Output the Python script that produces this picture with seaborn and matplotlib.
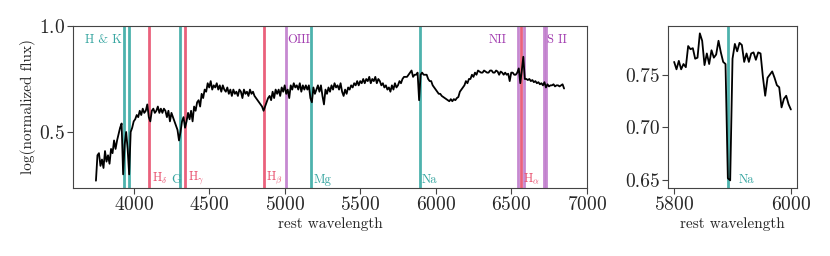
import numpy as np
import matplotlib
matplotlib.use("Agg")
import matplotlib.pyplot as plt
import matplotlib.transforms as mtransforms
import seaborn as sns

wave_full = np.arange(3750, 6851, 10)
flux_full = [
    0.27, 0.39, 0.40, 0.34, 0.37, 0.33, 0.41, 0.36, 0.39, 0.35, 0.42, 0.40, 0.46, 0.42, 0.46, 0.49, 0.52, 0.54, 0.30, 0.44,
    0.50, 0.42, 0.30, 0.50, 0.52, 0.55, 0.56, 0.58, 0.57, 0.60, 0.58, 0.61, 0.59, 0.60, 0.63, 0.57, 0.55, 0.60, 0.61, 0.59,
    0.60, 0.62, 0.59, 0.61, 0.59, 0.61, 0.60, 0.57, 0.60, 0.55, 0.59, 0.57, 0.55, 0.53, 0.51, 0.46, 0.50, 0.55, 0.57, 0.52,
    0.55, 0.59, 0.56, 0.60, 0.55, 0.62, 0.60, 0.64, 0.65, 0.62, 0.68, 0.66, 0.70, 0.69, 0.73, 0.71, 0.74, 0.70, 0.72, 0.71,
    0.73, 0.70, 0.72, 0.69, 0.72, 0.70, 0.69, 0.71, 0.68, 0.70, 0.67, 0.70, 0.68, 0.69, 0.67, 0.70, 0.69, 0.66, 0.70, 0.68,
    0.69, 0.67, 0.70, 0.68, 0.69, 0.67, 0.66, 0.65, 0.64, 0.63, 0.62, 0.60, 0.62, 0.64, 0.66, 0.67, 0.65, 0.69, 0.66, 0.70,
    0.68, 0.70, 0.67, 0.71, 0.69, 0.72, 0.68, 0.70, 0.66, 0.72, 0.70, 0.73, 0.71, 0.72, 0.70, 0.73, 0.69, 0.72, 0.70, 0.72,
    0.70, 0.72, 0.66, 0.64, 0.71, 0.68, 0.70, 0.72, 0.69, 0.72, 0.67, 0.63, 0.70, 0.68, 0.71, 0.69, 0.72, 0.70, 0.73, 0.71,
    0.72, 0.70, 0.73, 0.69, 0.67, 0.70, 0.68, 0.71, 0.70, 0.72, 0.71, 0.73, 0.72, 0.74, 0.72, 0.74, 0.73, 0.75, 0.73, 0.75,
    0.74, 0.76, 0.73, 0.75, 0.74, 0.76, 0.73, 0.75, 0.74, 0.72, 0.73, 0.71, 0.72, 0.70, 0.71, 0.69, 0.72, 0.70, 0.73, 0.71,
    0.72, 0.74, 0.73, 0.75, 0.76, 0.76, 0.76, 0.77, 0.78, 0.79, 0.76, 0.77, 0.77, 0.78, 0.65, 0.77, 0.78, 0.77, 0.77, 0.77,
    0.75, 0.74, 0.74, 0.72, 0.71, 0.70, 0.69, 0.68, 0.68, 0.67, 0.665, 0.66, 0.655, 0.65, 0.645, 0.655, 0.645, 0.655, 0.65, 0.66,
    0.665, 0.69, 0.70, 0.71, 0.72, 0.74, 0.73, 0.75, 0.75, 0.77, 0.76, 0.78, 0.77, 0.79, 0.785, 0.78, 0.78, 0.79, 0.785, 0.78,
    0.78, 0.79, 0.79, 0.78, 0.78, 0.79, 0.785, 0.77, 0.785, 0.78, 0.77, 0.78, 0.77, 0.775, 0.74, 0.78, 0.78, 0.77, 0.77, 0.78,
    0.80, 0.73, 0.79, 0.855, 0.75, 0.75, 0.745, 0.75, 0.74, 0.745, 0.735, 0.74, 0.73, 0.735, 0.725, 0.73, 0.72, 0.735, 0.71, 0.725,
    0.715, 0.72, 0.72, 0.725, 0.715, 0.72, 0.72, 0.715, 0.72, 0.725, 0.705,
]

# zoom on the Na D region, every 4 A
wave_na = np.arange(5800, 6001, 4)
flux_na = [
    0.762, 0.755, 0.763, 0.755, 0.760, 0.757, 0.777, 0.774, 0.775, 0.765,
    0.766, 0.789, 0.782, 0.759, 0.770, 0.760, 0.773, 0.766, 0.769, 0.782,
    0.771, 0.762, 0.760, 0.652, 0.650, 0.765, 0.779, 0.772, 0.780, 0.778,
    0.762, 0.770, 0.762, 0.770, 0.771, 0.764, 0.771, 0.770, 0.748, 0.730,
    0.747, 0.750, 0.753, 0.747, 0.740, 0.738, 0.719, 0.727, 0.730, 0.722,
    0.717,
]

# spectral lines
TEAL = "#3aaaa4"
RED = "#e8506e"
PURPLE = "#c07ccc"
line_waves = [3934, 3969, 4102, 4304, 4341, 4861, 5007, 5175, 5893,
              6548, 6563, 6584, 6717, 6731]
line_colors = [TEAL, TEAL, RED, TEAL, RED, RED, PURPLE, TEAL, TEAL,
               PURPLE, RED, PURPLE, PURPLE, PURPLE]

# labels: text, x, ha, colour
top_labels = [("H & K", 3675, "left", "#35a5a0"),
              ("OIII", 5019, "left", "#a23cb0"),
              ("NII", 6470, "right", "#a23cb0"),
              ("S II", 6738, "left", "#a23cb0")]
bottom_labels = [(r"H$_\delta$", 4118, "left", RED),
                 ("G", 4252, "left", "#35a5a0"),
                 (r"H$_\gamma$", 4358, "left", RED),
                 (r"H$_\beta$", 4878, "left", RED),
                 ("Mg", 5192, "left", "#35a5a0"),
                 ("Na", 5910, "left", "#35a5a0"),
                 (r"H$_\alpha$", 6581, "left", RED)]

sns.set_theme(style="ticks")
plt.rcParams["font.family"] = ["cmr10", "DejaVu Serif"]
plt.rcParams["mathtext.fontset"] = "cm"
plt.rcParams["axes.formatter.use_mathtext"] = True
plt.rcParams["axes.unicode_minus"] = False

fig = plt.figure(figsize=(8.3, 2.56), dpi=100)
ax1 = fig.add_axes([0.0883, 0.2668, 0.6186, 0.6316])
ax2 = fig.add_axes([0.8052, 0.2668, 0.1547, 0.6316])

for w, c in zip(line_waves, line_colors):
    ax1.axvline(w, color=c, lw=2.0, alpha=0.9, zorder=1)
sns.lineplot(x=wave_full, y=flux_full, ax=ax1, color="black", lw=1.3,
             estimator=None, zorder=3)
ax1.set_xlim(3600, 7000)
ax1.set_ylim(0.237, 1.0)
ax1.set_xticks([4000, 4500, 5000, 5500, 6000, 6500, 7000])
ax1.set_yticks([0.5, 1.0])
ax1.set_xlabel("rest wavelength", fontsize=11, labelpad=2)
ax1.set_ylabel("log(normalized flux)", fontsize=11, labelpad=2)

trans = mtransforms.blended_transform_factory(ax1.transData, ax1.transAxes)
for txt, x, ha, c in top_labels:
    ax1.text(x, 0.95, txt, transform=trans, ha=ha, va="top", color=c, fontsize=9)
for txt, x, ha, c in bottom_labels:
    ax1.text(x, 0.01, txt, transform=trans, ha=ha, va="bottom", color=c, fontsize=9)

ax2.axvline(5893, color=TEAL, lw=2.0, alpha=0.9, zorder=1)
sns.lineplot(x=wave_na, y=flux_na, ax=ax2, color="black", lw=1.3,
             estimator=None, zorder=3)
ax2.set_xticks([5800, 6000])
ax2.set_yticks([0.65, 0.70, 0.75])
ax2.yaxis.set_major_formatter(matplotlib.ticker.FormatStrFormatter("%.2f"))
ax2.set_xlabel("rest wavelength", fontsize=11, labelpad=2)
trans2 = mtransforms.blended_transform_factory(ax2.transData, ax2.transAxes)
ax2.text(5910, 0.01, "Na", transform=trans2, ha="left", va="bottom",
         color="#35a5a0", fontsize=9)

for ax in (ax1, ax2):
    ax.tick_params(labelsize=14, color="#444444", length=4, width=0.8, pad=2)
    for s in ax.spines.values():
        s.set_color("#444444")
        s.set_linewidth(0.8)

fig.savefig("out.png", dpi=100)
